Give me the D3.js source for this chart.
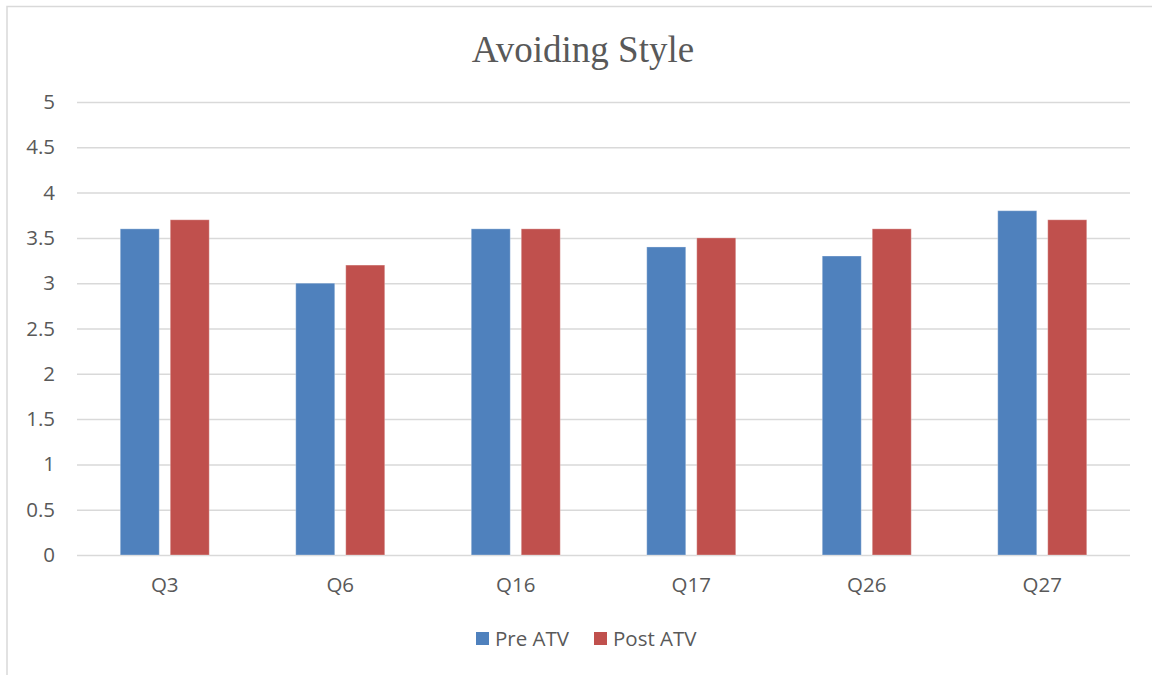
<!DOCTYPE html>
<html>
<head>
<meta charset="utf-8">
<script src="https://cdn.jsdelivr.net/npm/d3@7"></script>
<style>
  html, body { margin: 0; padding: 0; background: #fff; }
  svg { display: block; }
</style>
</head>
<body>
<svg id="chart" width="1152" height="675"></svg>
<script>
// Survey items and mean scores before / after the ATV programme
const categories = ["Q3", "Q6", "Q16", "Q17", "Q26", "Q27"];
const preATV  = [3.6, 3.0, 3.6, 3.4, 3.3, 3.8];
const postATV = [3.7, 3.2, 3.6, 3.5, 3.6, 3.7];
const seriesNames = ["Pre ATV", "Post ATV"];
const seriesColors = ["#4F81BD", "#C0504D"];
const yTicks = [0, 0.5, 1, 1.5, 2, 2.5, 3, 3.5, 4, 4.5, 5];
const title = "Avoiding Style";

const svg = d3.select("#chart");
const W = 1152, H = 675;
const plot = { left: 77, right: 1130, top: 102, bottom: 555 };
const labelFont = "'Open Sans', 'Noto Sans', 'Liberation Sans', sans-serif";
const labelSize = 20.5;
const textColor = "#595959";

// chart-area frame
svg.append("rect")
  .attr("x", 7).attr("y", 6.5)
  .attr("width", W).attr("height", H)
  .attr("fill", "#fff")
  .attr("stroke", "#d9d9d9").attr("stroke-width", 1.5);

// title
svg.append("text")
  .attr("x", 583).attr("y", 62)
  .attr("text-anchor", "middle")
  .attr("font-family", "'Liberation Serif', 'Times New Roman', serif")
  .attr("font-size", 37)
  .attr("fill", textColor)
  .text(title);

const y = d3.scaleLinear().domain([0, 5]).range([plot.bottom, plot.top]);
const x0 = d3.scaleBand().domain(categories).range([plot.left, plot.right]).padding(0);
const x1 = d3.scaleBand().domain(seriesNames).range([0, x0.bandwidth()])
  .paddingInner(0.22).paddingOuter(0.865);

// horizontal gridlines + y labels
const yAxis = d3.axisLeft(y).tickValues(yTicks).tickSize(0).tickPadding(0)
  .tickFormat(d3.format("~g"));
const yG = svg.append("g").attr("transform", `translate(${plot.left},0)`).call(yAxis);
yG.select(".domain").remove();
yG.selectAll(".tick text")
  .attr("x", -22)
  .attr("font-family", labelFont)
  .attr("font-size", labelSize)
  .attr("fill", textColor);
yG.selectAll(".tick").append("line")
  .attr("x1", 0).attr("x2", plot.right - plot.left)
  .attr("stroke", "#d9d9d9").attr("stroke-width", 1.5);

// bars
const rows = categories.map((c, i) => ({ cat: c, values: [preATV[i], postATV[i]] }));
const groups = svg.append("g").selectAll("g")
  .data(rows).join("g")
  .attr("transform", d => `translate(${x0(d.cat)},0)`);
groups.selectAll("rect")
  .data(d => d.values.map((v, k) => ({ name: seriesNames[k], v, k })))
  .join("rect")
  .attr("x", d => x1(d.name))
  .attr("width", x1.bandwidth())
  .attr("y", d => y(d.v))
  .attr("height", d => y(0) - y(d.v))
  .attr("fill", d => seriesColors[d.k])
  .attr("stroke", "#ffffff").attr("stroke-opacity", 0.3).attr("stroke-width", 1);

// x-axis category labels
const xAxis = d3.axisBottom(x0).tickSize(0).tickPadding(0);
const xG = svg.append("g").attr("transform", `translate(0,${plot.bottom})`).call(xAxis);
xG.select(".domain").remove();
xG.selectAll(".tick text")
  .attr("y", 22)
  .attr("dy", "0.71em")
  .attr("font-family", labelFont)
  .attr("font-size", labelSize)
  .attr("fill", textColor);

// legend
const legendItems = [{ x: 476, name: seriesNames[0], color: seriesColors[0] },
                     { x: 594, name: seriesNames[1], color: seriesColors[1] }];
const lg = svg.append("g").selectAll("g").data(legendItems).join("g")
  .attr("transform", d => `translate(${d.x},632)`);
lg.append("rect").attr("width", 13).attr("height", 13).attr("fill", d => d.color);
lg.append("text")
  .attr("x", 19).attr("y", 7).attr("dy", "0.35em")
  .attr("font-family", labelFont).attr("font-size", labelSize)
  .attr("fill", textColor)
  .text(d => d.name);
</script>
</body>
</html>
